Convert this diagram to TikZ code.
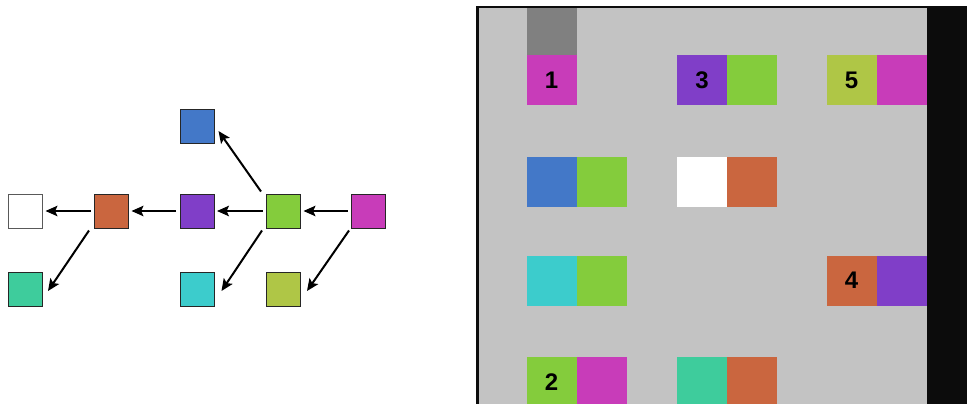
\documentclass[tikz,border=0pt]{standalone}
\usepackage{fontspec}
\setmainfont{Liberation Sans}
\usetikzlibrary{arrows.meta,calc}
\definecolor{cmag}{HTML}{C83CB9}
\definecolor{cgreen}{HTML}{84CC3C}
\definecolor{cpurple}{HTML}{803EC8}
\definecolor{colive}{HTML}{AFC646}
\definecolor{corange}{HTML}{CA663F}
\definecolor{cblue}{HTML}{4378C8}
\definecolor{ccyan}{HTML}{3CCCCC}
\definecolor{cteal}{HTML}{3ECC9C}
\definecolor{cpanel}{HTML}{C3C3C3}
\definecolor{cdark}{HTML}{0C0C0C}
\definecolor{cgrayblk}{HTML}{808080}
\begin{document}
\begin{tikzpicture}[x=1pt,y=-1pt,
  vbox/.style={draw=black!85, line width=1pt, minimum size=34pt, inner sep=0pt, fill=#1},
  cell/.style={minimum width=50pt, minimum height=50pt, inner sep=0pt, fill=#1,
    font=\bfseries\fontsize{24}{24}\selectfont},
  arr/.style={line width=2pt, -{Stealth[length=12pt,width=10.5pt,inset=2.5pt]}},
  harr/.style={arr, shorten <=3.5pt, shorten >=2.5pt},
]
\useasboundingbox (0,0) rectangle (967,404);

% left graph
\node[vbox=cblue] (blue) at (197,126) {};
\node[vbox=white, draw=black!65] (white) at (25.5,211) {};
\node[vbox=corange] (orange) at (111.5,211) {};
\node[vbox=cpurple] (purple) at (197,211) {};
\node[vbox=cgreen] (green) at (283.5,211) {};
\node[vbox=cmag] (mag) at (368.5,211) {};
\node[vbox=cteal] (teal) at (25.5,289.5) {};
\node[vbox=ccyan] (cyan) at (197,289.5) {};
\node[vbox=colive] (olive) at (283.5,289.5) {};

\draw[harr] (mag) -- (green);
\draw[harr] (green) -- (purple);
\draw[harr] (purple) -- (orange);
\draw[harr] (orange) -- (white);
\draw[arr] ($(green.north west)+(-5,-2)$) -- ($(blue.east)+(4,5)$);
\draw[arr] ($(green.south west)+(-4,2)$) -- ($(cyan.east)+(7,1.5)$);
\draw[arr] ($(orange.south west)+(-5,2)$) -- ($(teal.east)+(5,1.5)$);
\draw[arr] ($(mag.south west)+(-2,2)$) -- ($(olive.east)+(6,1.5)$);

% right panel
\begin{scope}
\clip (470,0) rectangle (967,404);
\fill[cdark] (476,6) rectangle (967,404);
\fill[cpanel] (478.5,8.5) rectangle (927,404);
\node[cell=cgrayblk, minimum height=46.5pt] (g0) at (551.5,31.75) {};
% row 1
\node[cell=cmag] (a11) at (551.5,80) {1};
\node[cell=cpurple] (b11) at (702,80) {3};
\node[cell=cgreen] (b12) at (751.5,80) {};
\node[cell=colive] (c11) at (851.5,80) {5};
\node[cell=cmag] (c12) at (902,80) {};
% row 2
\node[cell=cblue] (a21) at (551.5,181.5) {};
\node[cell=cgreen] (a22) at (601.5,181.5) {};
\node[cell=white] (b21) at (702,181.5) {};
\node[cell=corange] (b22) at (751.5,181.5) {};
% row 3
\node[cell=ccyan] (a31) at (551.5,280.5) {};
\node[cell=cgreen] (a32) at (601.5,280.5) {};
\node[cell=corange] (c31) at (851.5,280.5) {4};
\node[cell=cpurple] (c32) at (902,280.5) {};
% row 4
\node[cell=cgreen] (a41) at (551.5,382) {2};
\node[cell=cmag] (a42) at (601.5,382) {};
\node[cell=cteal] (b41) at (702,382) {};
\node[cell=corange] (b42) at (751.5,382) {};
\end{scope}
\end{tikzpicture}
\end{document}
